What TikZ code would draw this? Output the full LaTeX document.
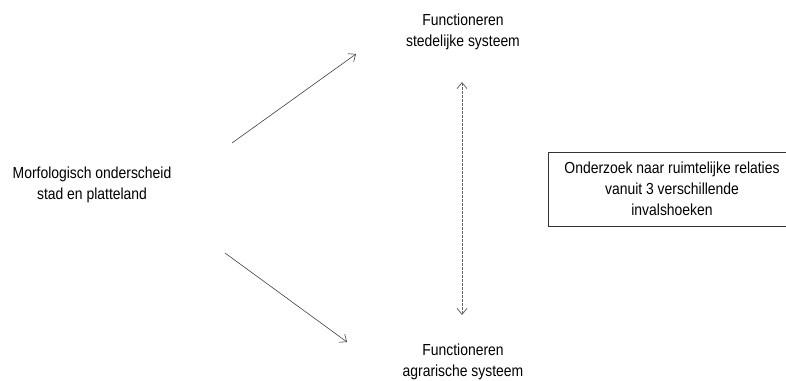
\documentclass[tikz,border=0pt]{standalone}
\usepackage{fontspec}
\setmainfont[FakeStretch=0.87]{Liberation Sans}
\usetikzlibrary{arrows.meta}
\begin{document}
\begin{tikzpicture}[x=1pt,y=-1pt,
  label text/.style={align=center,font=\fontsize{16}{21}\selectfont,inner sep=0pt},
  flow/.style={draw=black!75,line width=0.6pt,-{Straight Barb[length=6pt,width=10pt]}},
  link/.style={draw=black!60,line width=0.8pt,dash pattern=on 2.5pt off 1.5pt,
    {Straight Barb[length=6pt,width=10pt]}-{Straight Barb[length=6pt,width=10pt]}}]
  \useasboundingbox (0,0) rectangle (786,380);
  \node[label text] (morf) at (92,185) {Morfologisch onderscheid\\stad en platteland};
  \node[label text] (sted) at (463,32) {Functioneren\\stedelijke systeem};
  \node[label text] (agr) at (463,362) {Functioneren\\agrarische systeem};
  \node[label text,draw=black!80,line width=0.7pt,minimum width=248pt,minimum height=74pt]
    (onder) at (672,189) {Onderzoek naar ruimtelijke relaties\\vanuit 3 verschillende\\invalshoeken};
  \coordinate (a1s) at (232,143);
  \coordinate (a1e) at (356,54);
  \coordinate (a2s) at (225,253);
  \coordinate (a2e) at (347,342);
  \coordinate (dtop) at (462,82);
  \coordinate (dbot) at (462,315);
  \draw[flow] (a1s) -- (a1e);
  \draw[flow] (a2s) -- (a2e);
  \draw[link] (dtop) -- (dbot);
\end{tikzpicture}
\end{document}
